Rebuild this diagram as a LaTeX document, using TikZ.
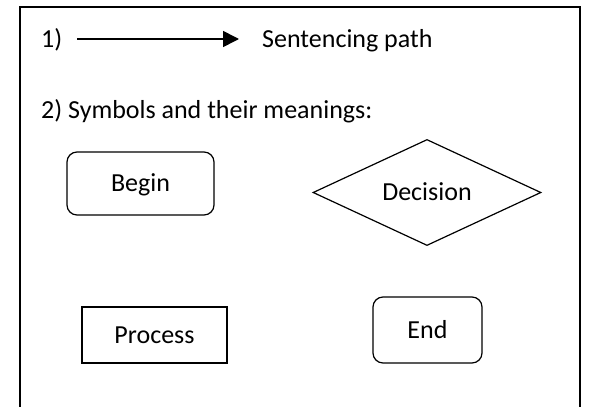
\documentclass[tikz,border=0pt]{standalone}
\usepackage{fontspec}
\setmainfont{Carlito}
\usetikzlibrary{arrows.meta,shapes.geometric}
\begin{document}
\begin{tikzpicture}[x=1pt,y=-1pt,
		txt/.style={font=\fontsize{26}{31}\selectfont,inner sep=0pt},
		symb/.style={txt,draw,line width=1.2pt,text height=16.7pt,text depth=0pt},
		rbox/.style={symb,rounded corners=10pt}]
		\useasboundingbox (0,0) rectangle (590,407);
		\pgfmathsetmacro{\L}{20}
		\pgfmathsetmacro{\R}{580}
		\draw[line width=2pt] (\L,407)--(\L,7)--(\R,7)--(\R,407);
		\node[txt,anchor=base west] (one) at (41,47) {1)};
		\coordinate (pathstart) at (77,39);
		\coordinate (pathend) at (239,39);
		\draw[line width=1.6pt,-{Triangle[length=16pt,width=16pt]}] (pathstart)--(pathend);
		\node[txt,anchor=base west] (pathlabel) at (262,47) {Sentencing path};
		\node[txt,anchor=base west] (two) at (41,118) {2) Symbols and their meanings:};
		\node[rbox,minimum width=147pt,minimum height=63pt] (begin) at (140.5,183.5) {Begin};
		\node[symb,diamond,minimum width=228pt,minimum height=103pt] (decision) at (427,192.5) {Decision};
		\node[symb,minimum width=145pt,minimum height=56pt] (process) at (154.5,335) {Process};
		\node[rbox,minimum width=109pt,minimum height=66pt] (finish) at (427.5,330) {End};
	\end{tikzpicture}
\end{document}
